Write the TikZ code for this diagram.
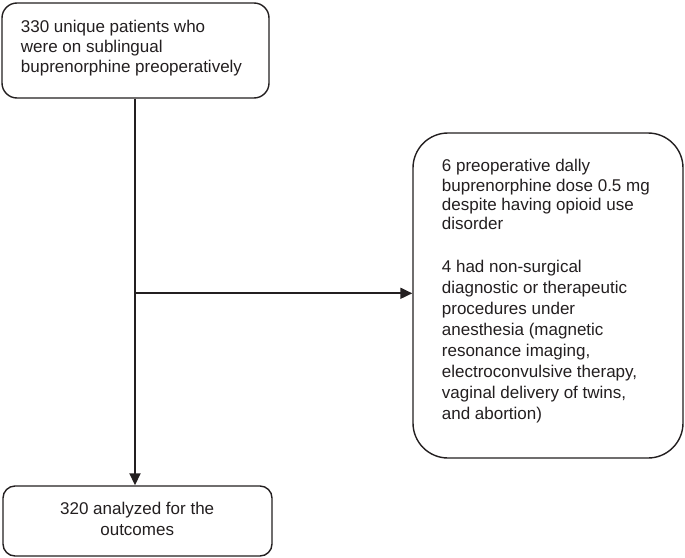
\documentclass[tikz,border=0pt]{standalone}
\usepackage{fontspec}
\setmainfont{Liberation Sans}
\usetikzlibrary{arrows.meta}
\definecolor{ink}{HTML}{231F20}
\tikzset{
  box/.style={draw=ink, line width=1.4pt, fill=white, inner sep=0pt},
  txt/.style={inner sep=0pt, text=ink, align=left, anchor=base west},
  conn/.style={draw=ink, line width=1.8pt},
  tip/.style={-{Triangle[length=12pt,width=11pt]}}
}
\begin{document}
\begin{tikzpicture}[x=1pt,y=-1pt]
\useasboundingbox (0,0) rectangle (685,557);
% boxes
\node[box, rounded corners=15pt, minimum width=267pt, minimum height=95pt] (top) at (135.5,50.5) {};
\node[box, rounded corners=35pt, minimum width=270pt, minimum height=325pt] (side) at (548,295.5) {};
\node[box, rounded corners=12pt, minimum width=269pt, minimum height=70pt] (bot) at (137.5,521) {};
% texts (anchor = baseline of the last line)
\node[txt, font=\fontsize{17}{19.8}\selectfont] (ttop) at (20.7,72.1)
  {330 unique patients who\\were on sublingual\\buprenorphine preoperatively};
\node[txt, font=\fontsize{17}{19.3}\selectfont] (tside1) at (441.7,229.6)
  {6 preoperative dally\\buprenorphine dose 0.5 mg\\despite having opioid use\\disorder};
\node[txt, font=\fontsize{17}{21.1}\selectfont] (tside2) at (441.7,419.7)
  {4 had non-surgical\\diagnostic or therapeutic\\procedures under\\anesthesia (magnetic\\resonance imaging,\\electroconvulsive therapy,\\vaginal delivery of twins,\\and abortion)};
\node[txt, align=center, anchor=base, font=\fontsize{17}{20.5}\selectfont] (tbot) at (137.2,535)
  {320 analyzed for the\\outcomes};
% connectors
\coordinate (branch) at (135,293.3);
\draw[conn] (top.south -| branch) -- (branch);
\draw[conn, tip] (branch) -- (branch |- bot.north);
\draw[conn, tip] (branch) -- (branch -| side.west);
\end{tikzpicture}
\end{document}
